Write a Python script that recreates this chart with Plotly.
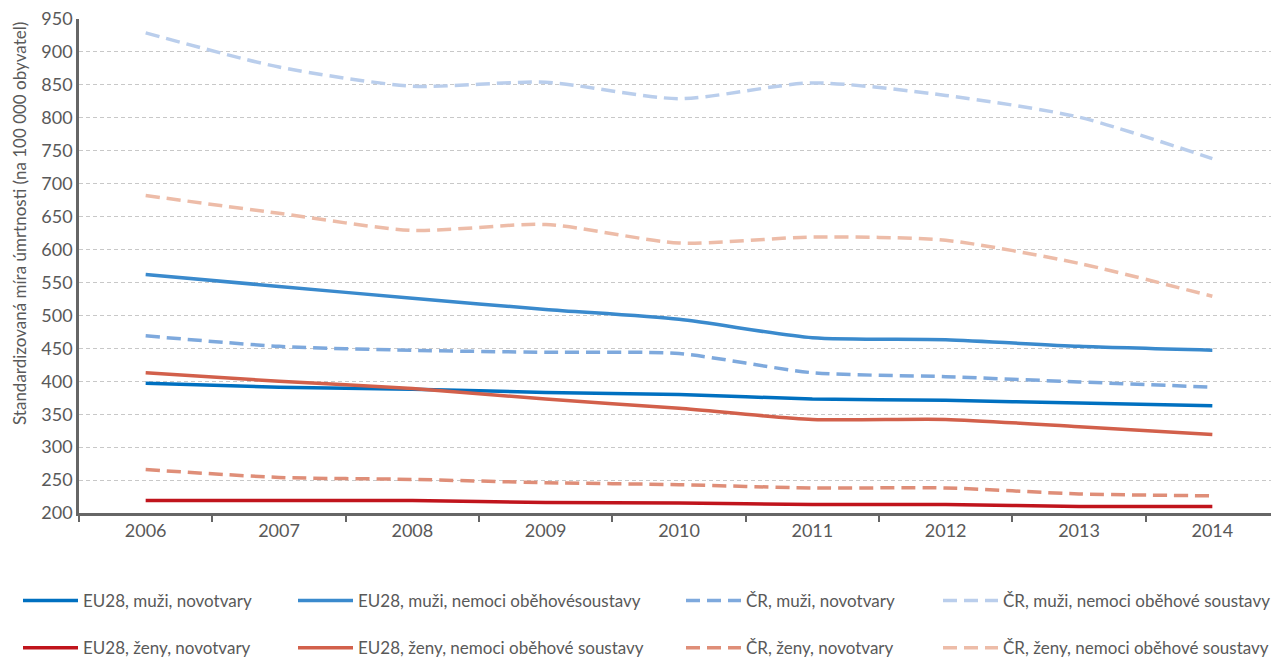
import plotly.graph_objects as go

years = ["2006", "2007", "2008", "2009", "2010", "2011", "2012", "2013", "2014"]

eu_muzi_novotvary = [397, 391, 388, 383, 380, 373, 371, 367, 363]
eu_muzi_obehove = [562, 544, 526, 509, 494, 466, 463, 453, 447]
cr_muzi_novotvary = [469, 453, 447, 444, 442, 413, 407, 399, 391]
cr_muzi_obehove = [929, 877, 848, 854, 829, 853, 834, 801, 738]
eu_zeny_novotvary = [219, 219, 219, 216, 215, 213, 213, 210, 210]
eu_zeny_obehove = [413, 400, 389, 373, 359, 342, 342, 331, 319]
cr_zeny_novotvary = [266, 254, 251, 246, 243, 238, 238, 229, 226]
cr_zeny_obehove = [682, 655, 629, 638, 610, 619, 614, 579, 529]

y_title = "Standardizovaná míra úmrtnosti (na 100 000 obyvatel)"

series = [
    ("EU28, muži, novotvary", eu_muzi_novotvary, "#0070C0", "solid", "legend"),
    ("EU28, ženy, novotvary", eu_zeny_novotvary, "#C0141C", "solid", "legend"),
    ("EU28, muži, nemoci oběhovésoustavy", eu_muzi_obehove, "#3A8ACD", "solid", "legend2"),
    ("EU28, ženy, nemoci oběhové soustavy", eu_zeny_obehove, "#D2604B", "solid", "legend2"),
    ("ČR, muži, novotvary", cr_muzi_novotvary, "#7EA9DD", "14px,7px", "legend3"),
    ("ČR, ženy, novotvary", cr_zeny_novotvary, "#DF8E78", "14px,7px", "legend3"),
    ("ČR, muži, nemoci oběhové soustavy", cr_muzi_obehove, "#BACEEC", "14px,7px", "legend4"),
    ("ČR, ženy, nemoci oběhové soustavy", cr_zeny_obehove, "#EDBCA8", "14px,7px", "legend4"),
]

fig = go.Figure()
for i, (name, vals, color, dash, leg) in enumerate(series):
    fig.add_trace(go.Scatter(
        x=years, y=vals, name=name, mode="lines",
        line=dict(color=color, width=3.5, dash=dash, shape="spline", smoothing=0.7),
        legend=leg, legendgroup=f"g{i}",
    ))

font_family = "Lato, Open Sans, sans-serif"
text_color = "#595959"
axis_color = "#666666"

W, H = 1271, 659
L, T, B = 79, 19, 146
pw = W - L
ph = H - T - B

def px_to_x(px):
    return (px - L) / pw

def py_to_y(py):
    return (H - B - py) / ph

leg_common = dict(
    orientation="v", xanchor="left", yanchor="top",
    font=dict(family=font_family, size=17, color=text_color),
    bgcolor="rgba(0,0,0,0)", borderwidth=0,
    tracegroupgap=22, itemwidth=55,
)
leg_y = py_to_y(583)

fig.update_layout(
    width=W, height=H,
    margin=dict(l=L, r=0, t=T, b=B, autoexpand=False),
    paper_bgcolor="white", plot_bgcolor="white",
    font=dict(family=font_family, color=text_color, size=16),
    showlegend=True,
    legend=dict(x=px_to_x(18), y=leg_y, **leg_common),
    legend2=dict(x=px_to_x(293), y=leg_y, **leg_common),
    legend3=dict(x=px_to_x(681), y=leg_y, **leg_common),
    legend4=dict(x=px_to_x(938), y=leg_y, **leg_common),
    xaxis=dict(
        type="category", range=[-0.5, 8.44], automargin=False,
        tickson="boundaries", ticks="outside", ticklen=6, tickwidth=2,
        tickcolor=axis_color, showline=True, linecolor=axis_color, linewidth=2.5,
        showgrid=False, zeroline=False,
        tickfont=dict(family=font_family, size=18, color=text_color),
    ),
    yaxis=dict(
        range=[200, 950], dtick=50, tick0=200, automargin=False,
        showline=True, linecolor=axis_color, linewidth=2.5,
        ticks="", showgrid=True, gridcolor="#c8c8c8", griddash="4px,3px", gridwidth=1,
        zeroline=False,
        tickfont=dict(family=font_family, size=18, color=text_color),
    ),
    annotations=[dict(
        text=y_title, textangle=-90, showarrow=False,
        xref="paper", yref="paper", x=px_to_x(19), y=py_to_y(224),
        xanchor="center", yanchor="middle",
        font=dict(family=font_family, size=17, color=text_color),
    )],
)

fig.write_html("out.html", config={"displayModeBar": False},
               post_script="document.body.style.margin='0';")
